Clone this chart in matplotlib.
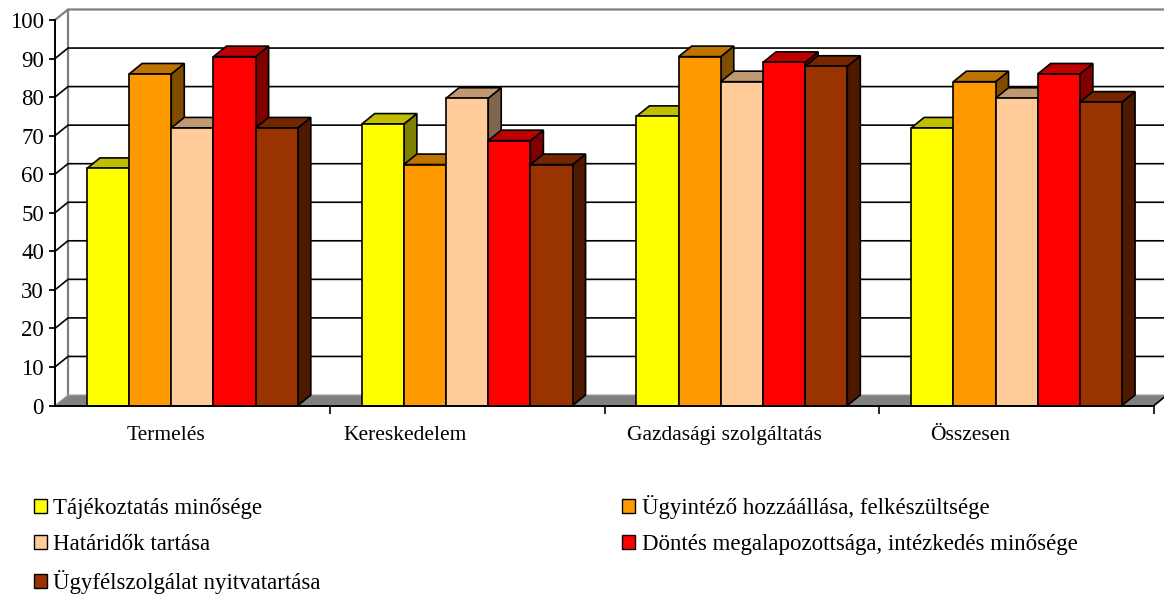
import matplotlib
matplotlib.use("Agg")
import matplotlib.pyplot as plt
from matplotlib.patches import Polygon, Patch
from matplotlib.colors import to_rgb

# Adatok
categories = ['Termelés', 'Kereskedelem', 'Gazdasági szolgáltatás', 'Összesen']
series_names = [
    'Tájékoztatás minősége',
    'Ügyintéző hozzáállása, felkészültsége',
    'Határidők tartása',
    'Döntés megalapozottsága, intézkedés minősége',
    'Ügyfélszolgálat nyitvatartása',
]
tajekoztatas = [61.5, 73.0, 75.0, 72.0]
ugyintezo = [86.0, 62.5, 90.5, 84.0]
hataridok = [72.0, 79.7, 84.0, 79.7]
dontes = [90.5, 68.7, 89.0, 86.0]
nyitvatartas = [72.0, 62.5, 88.0, 78.7]
series_values = [tajekoztatas, ugyintezo, hataridok, dontes, nyitvatartas]
colors = ['#FFFF00', '#FF9900', '#FFCC99', '#FF0000', '#993300']
yticks = list(range(0, 101, 10))

# Elrendezés
W, H = 1164, 594
AX_BOX = (55, 188.5, 1099, 385.5)     # bal, alsó, szélesség, magasság pixelben
DEPTH_PX = (13, 10.5)                 # 3D mélység eltolás pixelben
BAR_W = 0.1535
LABEL_X = [0.404, 1.276, 2.437, 3.33]
FONT = 'Liberation Serif'

fig = plt.figure(figsize=(W / 100, H / 100), dpi=100)
ax = fig.add_axes([AX_BOX[0] / W, AX_BOX[1] / H, AX_BOX[2] / W, AX_BOX[3] / H])
n_cat = len(categories)
ax.set_xlim(0, n_cat)
ax.set_ylim(0, 100)
ax.patch.set_visible(False)

dx = DEPTH_PX[0] / AX_BOX[2] * n_cat
dy = DEPTH_PX[1] / AX_BOX[3] * 100

gray = '#808080'
# hátsó fal és oldalfal kerete
ax.plot([0, dx, n_cat + dx], [100, 100 + dy, 100 + dy], color=gray, lw=1.6,
        clip_on=False, zorder=1)
ax.plot([dx, dx], [dy, 100 + dy], color=gray, lw=1.6, clip_on=False, zorder=1)

# rácsvonalak
for v in yticks[1:-1]:
    ax.plot([0, dx, n_cat + dx], [v, v + dy, v + dy], color='black', lw=1.2,
            clip_on=False, zorder=2)

# padló
ax.add_patch(Polygon([(0, 0), (n_cat, 0), (n_cat + dx, dy), (dx, dy)],
                     closed=True, facecolor=gray, edgecolor='#a0a0a0', lw=0.8,
                     clip_on=False, zorder=3))
ax.plot([n_cat, n_cat + dx], [0, dy], color='black', lw=1.2, clip_on=False, zorder=3)


def shade(c, f):
    r, g, b = to_rgb(c)
    return (r * f, g * f, b * f)


gap = (1 - len(series_values) * BAR_W) / 2
z = 4
for i in range(n_cat):
    for j, vals in enumerate(series_values):
        v = vals[i]
        x0 = i + gap + j * BAR_W
        x1 = x0 + BAR_W
        c = colors[j]
        kw = dict(closed=True, edgecolor='black', lw=1.2, joinstyle='miter',
                  clip_on=False, zorder=z)
        # oldallap
        ax.add_patch(Polygon([(x1, 0), (x1 + dx, dy), (x1 + dx, v + dy), (x1, v)],
                             facecolor=shade(c, 0.5), **kw))
        # tetőlap
        ax.add_patch(Polygon([(x0, v), (x1, v), (x1 + dx, v + dy), (x0 + dx, v + dy)],
                             facecolor=shade(c, 0.75), **kw))
        # előlap
        ax.add_patch(Polygon([(x0, 0), (x1, 0), (x1, v), (x0, v)],
                             facecolor=c, **kw))
        z += 1

# tengelyek
for s in ['top', 'right']:
    ax.spines[s].set_visible(False)
for s in ['left', 'bottom']:
    ax.spines[s].set_linewidth(1.4)
    ax.spines[s].set_zorder(z + 1)

ax.set_yticks(yticks)
ax.set_yticklabels([str(t) for t in yticks], fontfamily=FONT, fontsize=16.5)
ax.tick_params(axis='y', direction='out', length=4, width=1.3, pad=4)

ax.set_xticks(range(1, n_cat + 1))
ax.set_xticklabels([])
ax.tick_params(axis='x', which='major', direction='out', length=6, width=1.2)
ax.set_xticks(LABEL_X, minor=True)
ax.set_xticklabels(categories, minor=True, fontfamily=FONT, fontsize=15.5)
ax.tick_params(axis='x', which='minor', length=0, pad=15)

# jelmagyarázat: soronként két elem
order = [0, 2, 4, 1, 3]
handles = [Patch(facecolor=colors[k], edgecolor='black', lw=1.0) for k in order]
labels = [series_names[k] for k in order]
fig.legend(handles, labels, ncol=2, loc='upper left',
           bbox_to_anchor=(34 / W, 1 - 495 / H), frameon=False,
           prop={'family': FONT, 'size': 16.5},
           handlelength=0.55, handleheight=0.55, handletextpad=0.3,
           labelspacing=0.66, columnspacing=13.15, borderpad=0, borderaxespad=0)

fig.savefig('out.png', dpi=100)
